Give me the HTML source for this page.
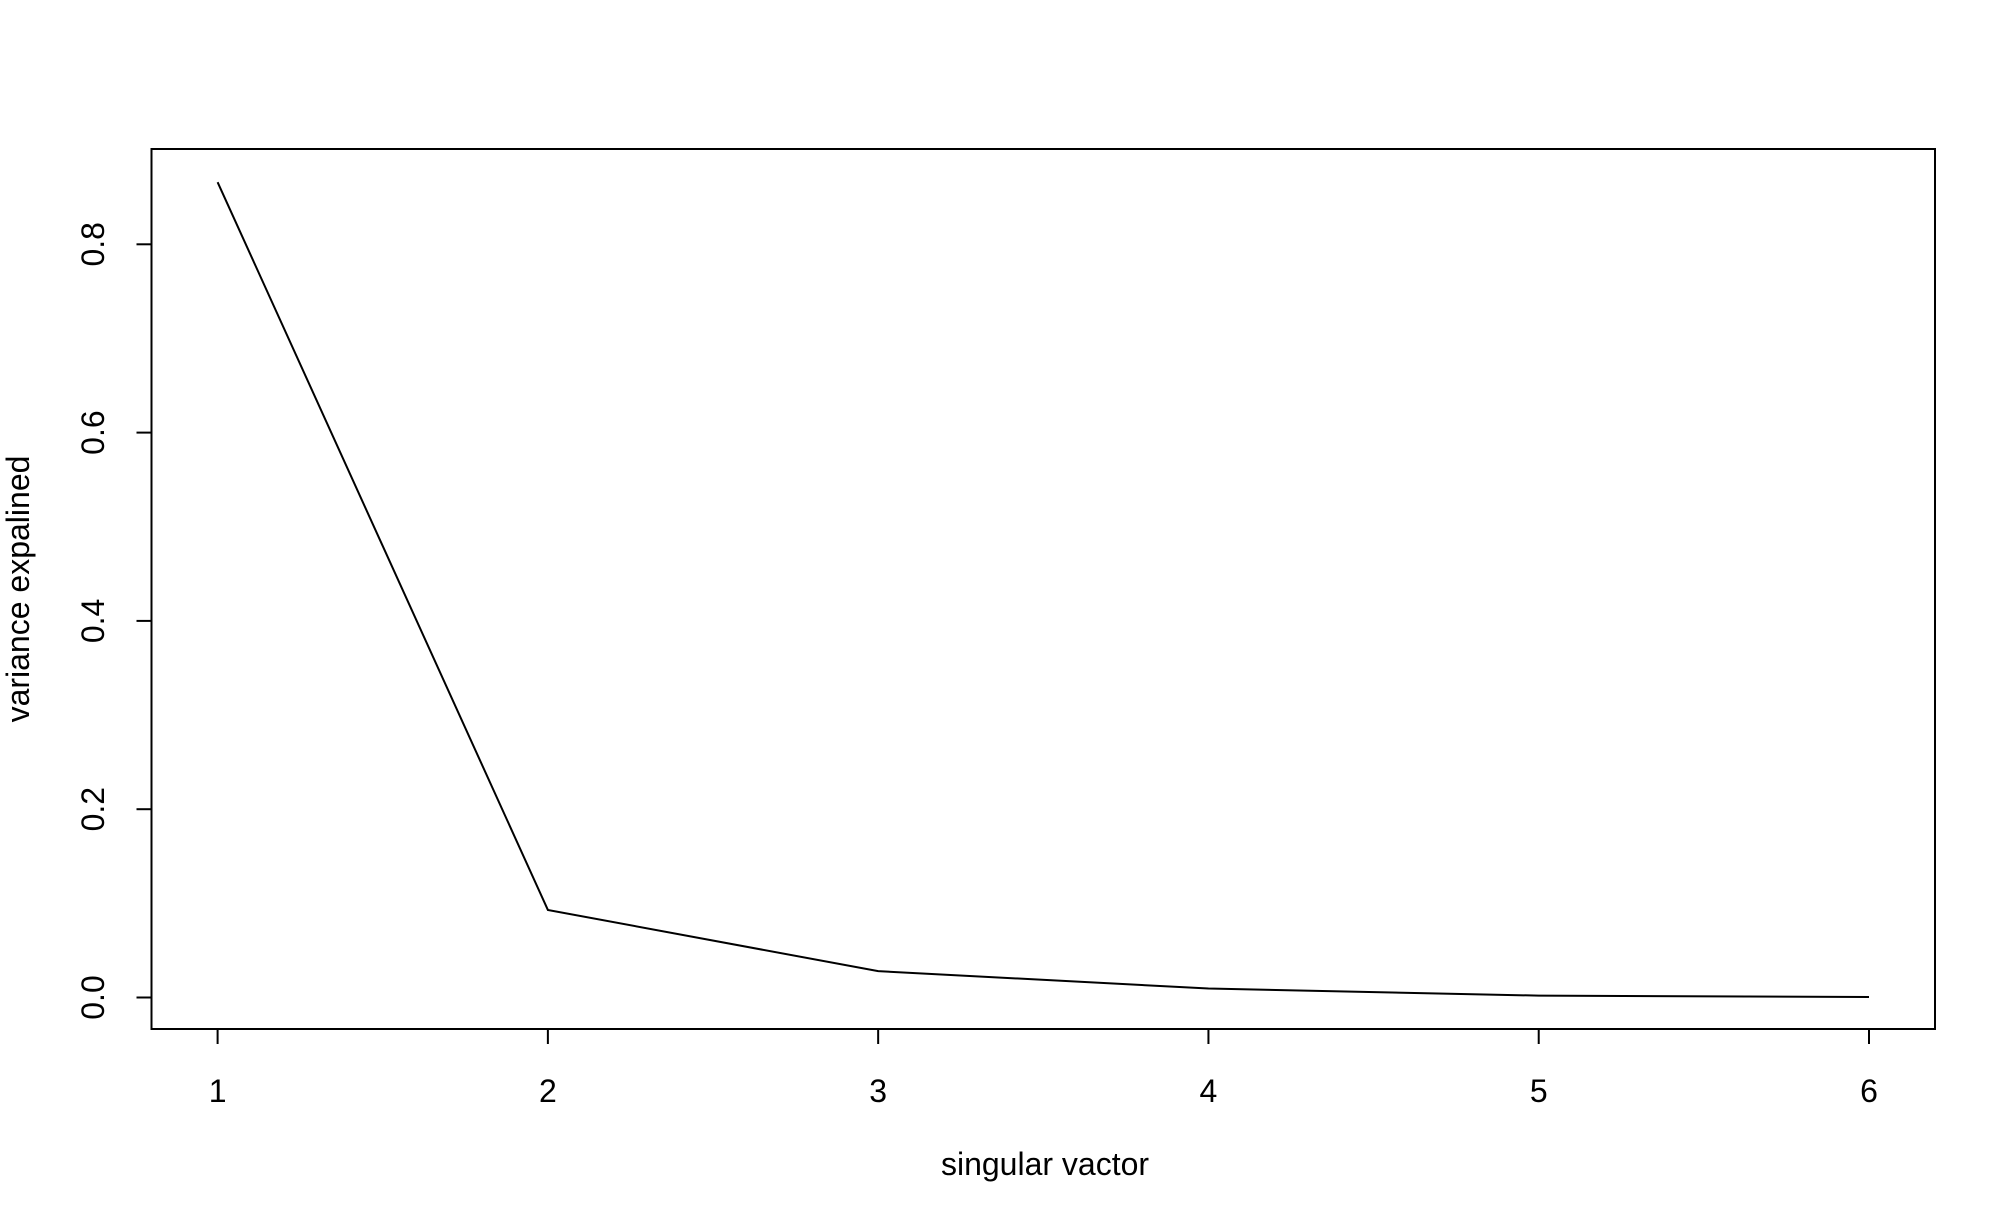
<!DOCTYPE html>
<html><head><meta charset="utf-8"><style>
html,body{margin:0;padding:0;background:#fff;}
svg text{font-family:"Liberation Sans",Arial,sans-serif;font-size:32px;fill:#000;}
</style></head><body>
<svg id="chart" width="1994" height="1220" xmlns="http://www.w3.org/2000/svg">
<rect x="151.5" y="149" width="1783.5" height="880" fill="none" stroke="#000" stroke-width="2"/>
<g id="xaxis"></g>
<g id="yaxis"></g>
<path id="line" fill="none" stroke="#000" stroke-width="2"/>
<text x="1045" y="1175" text-anchor="middle">singular vactor</text>
<text transform="translate(29,589) rotate(-90)" text-anchor="middle">variance expalined</text>
</svg>
<script>
const categories = [1, 2, 3, 4, 5, 6];
const values = [0.866, 0.093, 0.028, 0.0095, 0.002, 0.0005];
const xTicks = [1, 2, 3, 4, 5, 6];
const yTicks = [0.0, 0.2, 0.4, 0.6, 0.8];
const yTickLabels = ["0.0", "0.2", "0.4", "0.6", "0.8"];

const NS = "http://www.w3.org/2000/svg";
function xs(v){ return 217.6 + (v - 1) * (1869 - 217.6) / 5; }
function ys(v){ return 997.5 - v * (997.5 - 244.3) / 0.8; }
const BOTTOM = 1029, LEFT = 151.5;

const xa = document.getElementById('xaxis');
xTicks.forEach(t => {
  const l = document.createElementNS(NS, 'line');
  
  
  l.setAttribute('x1', xs(t)); l.setAttribute('x2', xs(t));
  l.setAttribute('y1', BOTTOM); l.setAttribute('y2', BOTTOM + 15);
  l.setAttribute('stroke', '#000'); l.setAttribute('stroke-width', '2');
  xa.appendChild(l);
  const tx = document.createElementNS(NS, 'text');
  
  
  tx.setAttribute('x', xs(t)); tx.setAttribute('y', 1102);
  tx.setAttribute('text-anchor', 'middle');
  tx.textContent = t;
  xa.appendChild(tx);
});
const axl = document.createElementNS(NS, 'line');


axl.setAttribute('x1', xs(xTicks[0])); axl.setAttribute('x2', xs(xTicks[xTicks.length-1]));
axl.setAttribute('y1', BOTTOM); axl.setAttribute('y2', BOTTOM);
axl.setAttribute('stroke', '#000'); axl.setAttribute('stroke-width', '2');
xa.appendChild(axl);

const ya = document.getElementById('yaxis');
yTicks.forEach((t, i) => {
  const l = document.createElementNS(NS, 'line');
  
  
  l.setAttribute('x1', LEFT - 15); l.setAttribute('x2', LEFT);
  l.setAttribute('y1', ys(t)); l.setAttribute('y2', ys(t));
  l.setAttribute('stroke', '#000'); l.setAttribute('stroke-width', '2');
  ya.appendChild(l);
  const tx = document.createElementNS(NS, 'text');
  
  
  tx.setAttribute('transform', 'translate(104,' + ys(t) + ') rotate(-90)');
  tx.setAttribute('text-anchor', 'middle');
  tx.textContent = yTickLabels[i];
  ya.appendChild(tx);
});
const ayl = document.createElementNS(NS, 'line');


ayl.setAttribute('x1', LEFT); ayl.setAttribute('x2', LEFT);
ayl.setAttribute('y1', ys(yTicks[0])); ayl.setAttribute('y2', ys(yTicks[yTicks.length-1]));
ayl.setAttribute('stroke', '#000'); ayl.setAttribute('stroke-width', '2');
ya.appendChild(ayl);

document.getElementById('line').setAttribute('d',
  categories.map((c, i) => (i ? 'L' : 'M') + xs(c) + ' ' + ys(values[i])).join(' '));
</script>
</body></html>
